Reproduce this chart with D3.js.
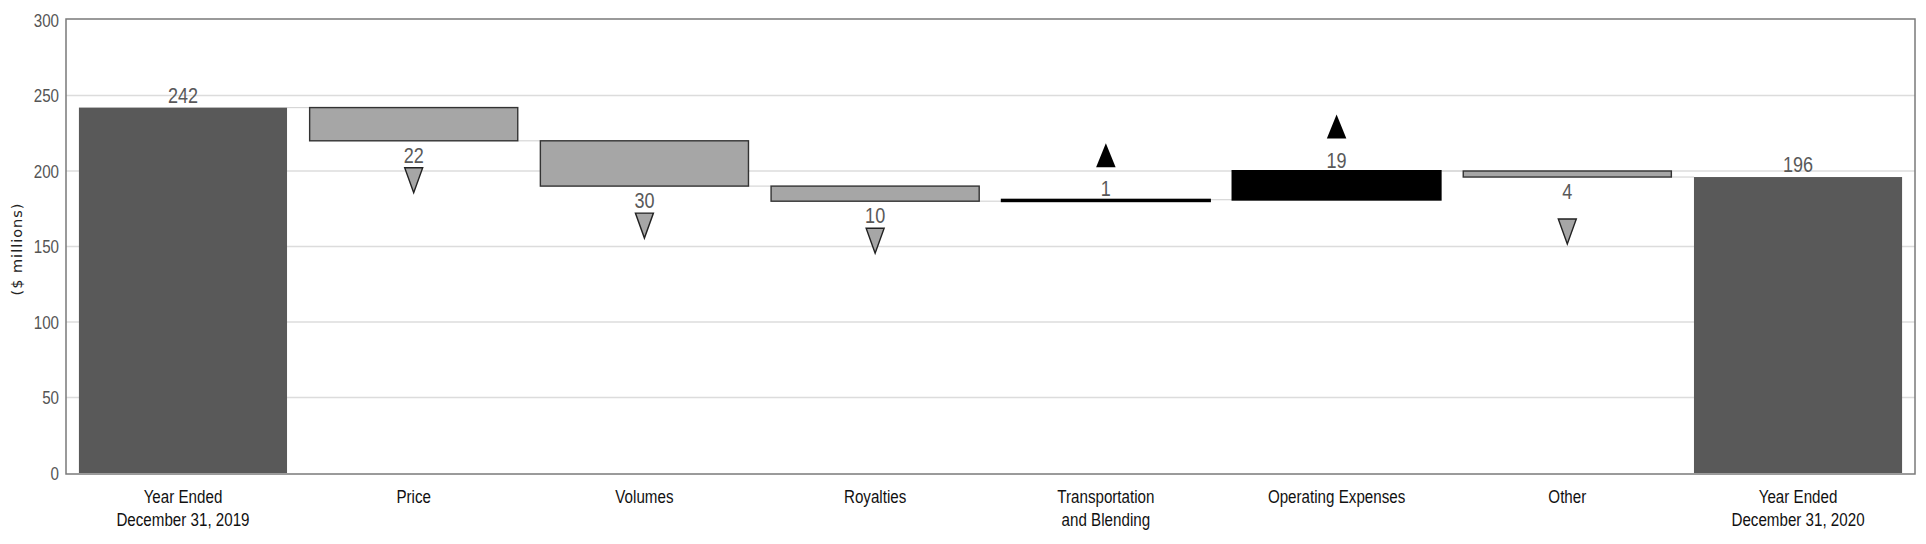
<!DOCTYPE html>
<html>
<head>
<meta charset="utf-8">
<script src="https://cdn.jsdelivr.net/npm/d3@7"></script>
<style>
  html, body { margin: 0; padding: 0; background: #fff; }
  svg { display: block; }
  .num { font-family: "Liberation Sans", Arial, sans-serif; }
</style>
</head>
<body>
<svg id="chart" width="1926" height="544"></svg>
<script>
// ---- data ----
const categories = [
  "Year Ended|December 31, 2019",
  "Price",
  "Volumes",
  "Royalties",
  "Transportation|and Blending",
  "Operating Expenses",
  "Other",
  "Year Ended|December 31, 2020"
];
const kinds = ["total", "delta", "delta", "delta", "delta", "delta", "delta", "total"];
const values = [242, -22, -30, -10, 1, 19, -4, 196];
const valueLabels = ["242", "22", "30", "10", "1", "19", "4", "196"];
const yTicks = [0, 50, 100, 150, 200, 250, 300];
const yTitle = "($ millions)";

// ---- layout ----
const frame = { left: 66, right: 1915, top: 19, bottom: 474 };
const NARROW = 0.82;
const svg = d3.select("#chart");

const x = d3.scaleBand()
  .domain(categories)
  .range([frame.left, frame.right])
  .paddingInner(0.098)
  .paddingOuter(0.056);

const y = d3.scaleLinear().domain([0, 300]).range([473, 20]);

// compute waterfall segments
let running = 0;
const bars = categories.map((c, i) => {
  let start, end;
  if (kinds[i] === "total") { start = 0; end = values[i]; running = values[i]; }
  else { start = running; end = running + values[i]; running = end; }
  return { cat: c, kind: kinds[i], value: values[i], label: valueLabels[i], start, end,
           lo: Math.min(start, end), hi: Math.max(start, end), level: running };
});

function narrowText(g, px, py, anchor, size, fill) {
  return g.append("text")
    .attr("class", "num")
    .attr("transform", `translate(${px},${py}) scale(${NARROW},1)`)
    .attr("text-anchor", anchor)
    .attr("font-size", size)
    .attr("fill", fill);
}

// gridlines
svg.append("g")
  .selectAll("line")
  .data(yTicks.filter(t => t > 0 && t < 300))
  .join("line")
  .attr("x1", frame.left).attr("x2", frame.right)
  .attr("y1", d => y(d)).attr("y2", d => y(d))
  .attr("stroke", "#dcdcdc").attr("stroke-width", 1.5);

// connector lines
svg.append("g")
  .selectAll("line")
  .data(bars.slice(0, -1))
  .join("line")
  .attr("x1", (d) => x(d.cat) + x.bandwidth())
  .attr("x2", (d, i) => x(bars[i + 1].cat))
  .attr("y1", d => y(d.level)).attr("y2", d => y(d.level))
  .attr("stroke", "#d6d6d6").attr("stroke-width", 1.2);

// bars
svg.append("g")
  .selectAll("rect")
  .data(bars)
  .join("rect")
  .attr("x", d => x(d.cat))
  .attr("width", x.bandwidth())
  .attr("y", d => y(d.hi))
  .attr("height", d => Math.max(1, y(d.lo) - y(d.hi)))
  .attr("fill", d => d.kind === "total" ? "#595959" : (d.value > 0 ? "#000" : "#a6a6a6"))
  .attr("stroke", d => d.kind === "total" ? "none" : (d.value > 0 ? "#000" : "#333"))
  .attr("stroke-width", d => d.value > 0 ? 2 : 1.4);

// frame
svg.append("rect")
  .attr("x", frame.left).attr("y", frame.top)
  .attr("width", frame.right - frame.left).attr("height", frame.bottom - frame.top)
  .attr("fill", "none").attr("stroke", "#7a7a7a").attr("stroke-width", 1.5);

// y tick labels
const tickG = svg.append("g");
yTicks.forEach(t => {
  narrowText(tickG, 59, y(t), "end", 18.5, "#555")
    .attr("dy", "0.36em")
    .text(t);
});

// y title
svg.append("text")
  .attr("transform", "translate(22,249) rotate(-90)")
  .attr("text-anchor", "middle")
  .attr("font-family", "DejaVu Sans, Verdana, sans-serif")
  .attr("font-size", 14.5)
  .attr("letter-spacing", 1)
  .attr("fill", "#222")
  .text(yTitle);

// category labels
const catG = svg.append("g");
categories.forEach(c => {
  const lines = c.split("|");
  const t = narrowText(catG, x(c) + x.bandwidth() / 2, 503, "middle", 18.5, "#111");
  lines.forEach((ln, k) => {
    t.append("tspan").attr("x", 0).attr("y", k * 23.5).text(ln);
  });
});

// value labels + markers
const labelG = svg.append("g");
const markerG = svg.append("g");
const triDown = (cx, top, w, h) => `M${cx - w / 2},${top}L${cx + w / 2},${top}L${cx},${top + h}Z`;
const triUp = (cx, bottom, w, h) => `M${cx - w / 2},${bottom}L${cx + w / 2},${bottom}L${cx},${bottom - h}Z`;

bars.forEach(d => {
  const cx = x(d.cat) + x.bandwidth() / 2;
  let baseline;
  if (d.kind === "total") {
    baseline = y(d.hi) - 5;
  } else if (d.value < 0) {
    baseline = y(d.lo) + 22;
    const extra = Math.abs(d.value) < 5 ? 15 : 0;
    markerG.append("path")
      .attr("d", triDown(cx, baseline + 5 + extra, 18, 25))
      .attr("fill", "#a6a6a6").attr("stroke", "#222").attr("stroke-width", 1.4)
      .attr("stroke-linejoin", "miter");
  } else {
    baseline = y(d.hi) - 3.5;
    markerG.append("path")
      .attr("d", triUp(cx, baseline - 29, 19.5, 24))
      .attr("fill", "#000");
  }
  narrowText(labelG, cx, baseline, "middle", 22, "#595959").text(d.label);
});
</script>
</body>
</html>
